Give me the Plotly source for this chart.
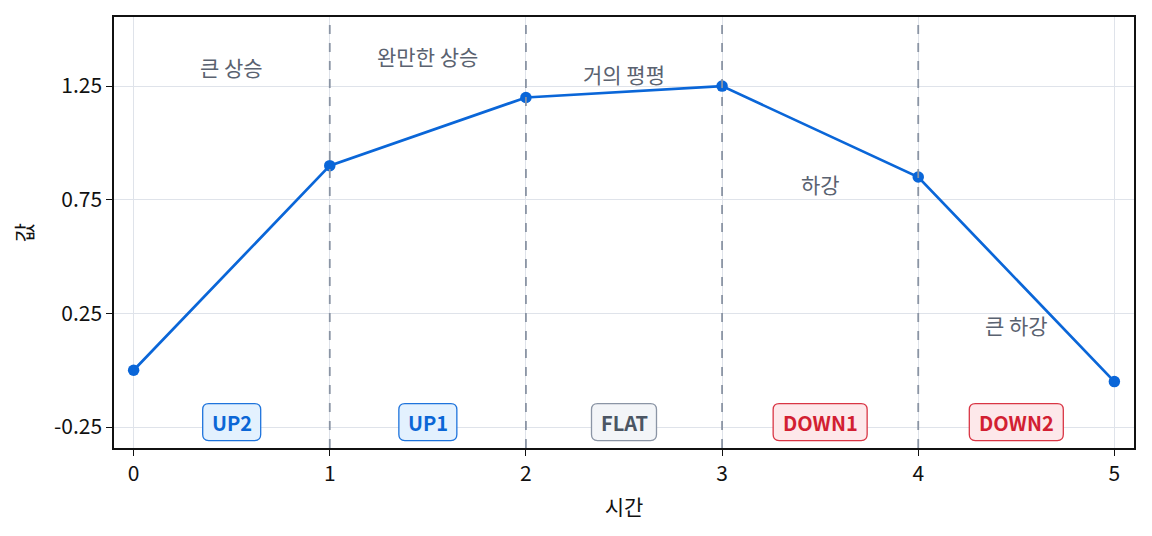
import plotly.graph_objects as go

x_vals = [0, 1, 2, 3, 4, 5]
y_vals = [0.0, 0.90, 1.20, 1.25, 0.85, -0.05]

seg_labels = ["큰 상승", "완만한 상승", "거의 평평", "하강", "큰 하강"]
seg_label_x = [0.5, 1.5, 2.5, 3.5, 4.5]
seg_label_y = [1.334, 1.382, 1.303, 0.819, 0.199]

badge_text = ["UP2", "UP1", "FLAT", "DOWN1", "DOWN2"]
badge_x = [0.5, 1.5, 2.5, 3.5, 4.5]
badge_y = -0.228
badge_w = [58, 58, 65, 94, 94]
badge_fg = ["#0b66d6", "#0b66d6", "#4b5563", "#d21f32", "#d21f32"]
badge_bg = ["#e3f1fe", "#e3f1fe", "#f3f5f8", "#fde8ea", "#fde8ea"]
badge_border = ["#1f74dc", "#1f74dc", "#8b95a5", "#d93645", "#d93645"]

vlines = [1, 2, 3, 4]
y_ticks = [-0.25, 0.25, 0.75, 1.25]

FONT = "Noto Sans CJK KR"

fig = go.Figure()
fig.add_trace(go.Scatter(
    x=x_vals, y=y_vals, mode="lines+markers",
    line=dict(color="#0a66d8", width=2.7),
    marker=dict(color="#0a66d8", size=11.5),
    showlegend=False, hoverinfo="skip",
))

shapes = []
for v in vlines:
    shapes.append(dict(type="line", xref="x", yref="paper", x0=v, x1=v, y0=0, y1=1,
                       line=dict(color="#8a94a4", width=1.8, dash="dash"), layer="above"))


def rounded_rect(w, h, r):
    x0, x1 = -w / 2, w / 2
    y0, y1 = -h / 2, h / 2
    return (f"M {x0+r},{y0} L {x1-r},{y0} Q {x1},{y0} {x1},{y0+r} "
            f"L {x1},{y1-r} Q {x1},{y1} {x1-r},{y1} L {x0+r},{y1} "
            f"Q {x0},{y1} {x0},{y1-r} L {x0},{y0+r} Q {x0},{y0} {x0+r},{y0} Z")


annotations = []
for t, bx, w, fg, bg, bc in zip(badge_text, badge_x, badge_w, badge_fg, badge_bg, badge_border):
    shapes.append(dict(type="path", xref="x", yref="y", xsizemode="pixel", ysizemode="pixel",
                       xanchor=bx, yanchor=badge_y, path=rounded_rect(w, 37, 6),
                       fillcolor=bg, line=dict(color=bc, width=1.3), layer="above"))
    annotations.append(dict(x=bx, y=badge_y, xref="x", yref="y", text=f"<b>{t}</b>",
                            showarrow=False, font=dict(family=FONT, size=20, color=fg)))

for t, lx, ly in zip(seg_labels, seg_label_x, seg_label_y):
    annotations.append(dict(x=lx, y=ly, xref="x", yref="y", text=t, showarrow=False,
                            font=dict(family=FONT, size=21, color="#5a6270")))

fig.update_layout(
    width=1152, height=536,
    margin=dict(l=114, r=18, t=17, b=88),
    paper_bgcolor="white", plot_bgcolor="white",
    font=dict(family=FONT, size=21, color="#111111"),
    shapes=shapes, annotations=annotations,
    xaxis=dict(range=[-0.1, 5.1], tickmode="array", tickvals=x_vals,
               ticks="outside", ticklen=6, tickcolor="#111", showline=True,
               linecolor="#111", linewidth=1.5, mirror=True,
               showgrid=True, gridcolor="#dfe3ea", gridwidth=1, zeroline=False,
               tickfont=dict(size=21),
               title=dict(text="시간", font=dict(size=21), standoff=14)),
    yaxis=dict(range=[-0.342, 1.554], tickmode="array", tickvals=y_ticks,
               ticktext=["-0.25", "0.25", "0.75", "1.25"],
               ticks="outside", ticklen=6, tickcolor="#111", showline=True,
               linecolor="#111", linewidth=1.5, mirror=True,
               showgrid=True, gridcolor="#dfe3ea", gridwidth=1, zeroline=False,
               tickfont=dict(size=21),
               title=dict(text="값", font=dict(size=21), standoff=16)),
)

fig.write_html("out.html")
